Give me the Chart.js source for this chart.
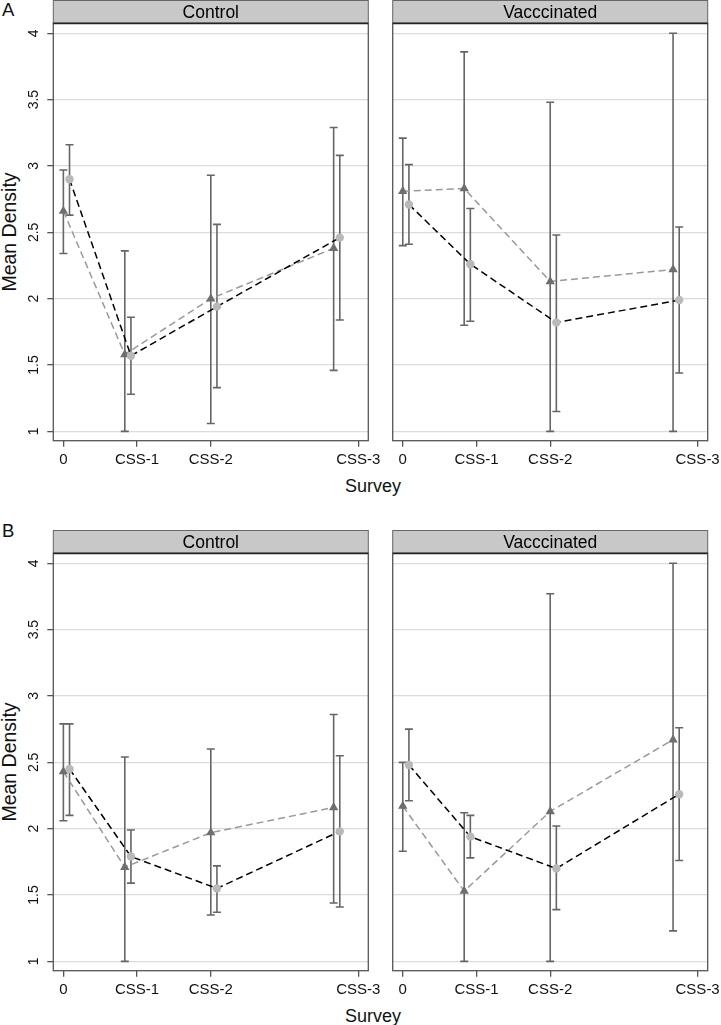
<!DOCTYPE html>
<html>
<head>
<meta charset="utf-8">
<script src="https://cdn.jsdelivr.net/npm/chart.js@4"></script>
<style>
html, body { margin: 0; padding: 0; background: #fff; overflow: hidden; width: 721px; height: 1025px; }
body { position: relative; font-family: "Liberation Sans", Arial, sans-serif; color: #111; }
canvas { position: absolute; }
.tag { position: absolute; font-size: 18.5px; line-height: 1; }
.ytitle { position: absolute; width: 200px; height: 20px; font-size: 19.5px; line-height: 20px; text-align: center; transform: rotate(-90deg); }
.xtitle { position: absolute; width: 200px; font-size: 18px; line-height: 1; text-align: center; }
</style>
</head>
<body>
<div class="tag" style="left:2px; top:1px;">A</div>
<div class="tag" style="left:2px; top:521.5px;">B</div>
<div class="ytitle" style="left:-91px; top:222px;">Mean Density</div>
<div class="ytitle" style="left:-91px; top:752px;">Mean Density</div>
<div class="xtitle" style="left:273px; top:476.5px;">Survey</div>
<div class="xtitle" style="left:273px; top:1006.5px;">Survey</div>

<canvas id="a-control" width="395" height="480" style="left:0px; top:0px;"></canvas>
<canvas id="a-vacc" width="360" height="480" style="left:370px; top:0px;"></canvas>
<canvas id="b-control" width="395" height="480" style="left:0px; top:530px;"></canvas>
<canvas id="b-vacc" width="360" height="480" style="left:370px; top:530px;"></canvas>

<script>
// Survey axis (months) and labels
const surveyTicks = [0, 3, 6, 12];
const surveyLabels = ['0', 'CSS-1', 'CSS-2', 'CSS-3'];
const yTicks = [1, 1.5, 2, 2.5, 3, 3.5, 4];

// Survey times of the two groups (slightly offset)
const timeTri = [0, 2.5, 6, 11];
const timeDot = [0.25, 2.75, 6.25, 11.25];

// Panel A - Control
const aCtrlTri = [2.66, 1.58, 2.00, 2.38];
const aCtrlTriLow = [2.34, 1.00, 1.06, 1.46];
const aCtrlTriHigh = [2.97, 2.36, 2.93, 3.29];
const aCtrlDot = [2.90, 1.57, 1.94, 2.46];
const aCtrlDotLow = [2.63, 1.28, 1.33, 1.84];
const aCtrlDotHigh = [3.16, 1.86, 2.56, 3.08];

// Panel A - Vacccinated
const aVacTri = [2.81, 2.83, 2.13, 2.22];
const aVacTriLow = [2.40, 1.80, 1.00, 1.00];
const aVacTriHigh = [3.21, 3.86, 3.48, 4.00];
const aVacDot = [2.71, 2.26, 1.82, 1.99];
const aVacDotLow = [2.41, 1.83, 1.15, 1.44];
const aVacDotHigh = [3.01, 2.68, 2.48, 2.54];

// Panel B - Control
const bCtrlTri = [2.43, 1.71, 1.97, 2.16];
const bCtrlTriLow = [2.06, 1.00, 1.35, 1.44];
const bCtrlTriHigh = [2.79, 2.54, 2.60, 2.86];
const bCtrlDot = [2.45, 1.79, 1.55, 1.98];
const bCtrlDotLow = [2.10, 1.59, 1.37, 1.41];
const bCtrlDotHigh = [2.79, 1.99, 1.72, 2.55];

// Panel B - Vacccinated
const bVacTri = [2.17, 1.53, 2.13, 2.67];
const bVacTriLow = [1.83, 1.00, 1.00, 1.23];
const bVacTriHigh = [2.50, 2.12, 3.77, 4.00];
const bVacDot = [2.48, 1.94, 1.70, 2.26];
const bVacDotLow = [2.21, 1.78, 1.39, 1.76];
const bVacDotHigh = [2.75, 2.10, 2.02, 2.76];

Chart.defaults.font.family = '"Liberation Sans", Arial, sans-serif';
Chart.defaults.color = '#111';

// Error bars, drawn under the lines and markers
const errorBarPlugin = {
    id: 'errorBars',
    beforeDatasetsDraw(chart) {
        const { ctx, scales: { x, y } } = chart;
        ctx.save();
        ctx.strokeStyle = '#666';
        ctx.lineWidth = 1.6;
        chart.data.datasets.forEach(ds => {
            ds.data.forEach((p, i) => {
                const px = x.getPixelForValue(p.x);
                const top = y.getPixelForValue(ds.high[i]);
                const bot = y.getPixelForValue(ds.low[i]);
                ctx.beginPath();
                ctx.moveTo(px, top); ctx.lineTo(px, bot);
                ctx.moveTo(px - 4, top); ctx.lineTo(px + 4, top);
                ctx.moveTo(px - 4, bot); ctx.lineTo(px + 4, bot);
                ctx.stroke();
            });
        });
        ctx.restore();
    }
};

// Plot frame and grey header strip
const stripPlugin = {
    id: 'strip',
    afterDraw(chart, args, opts) {
        const { ctx, chartArea: a } = chart;
        ctx.save();
        ctx.strokeStyle = '#555';
        ctx.lineWidth = 1.3;
        ctx.strokeRect(a.left, a.top, a.right - a.left, a.bottom - a.top);

        ctx.fillStyle = '#c8c8c8';
        ctx.fillRect(a.left, 0.5, a.right - a.left, a.top - 0.5);
        ctx.strokeStyle = '#666';
        ctx.lineWidth = 1;
        ctx.strokeRect(a.left, 0.5, a.right - a.left, a.top - 0.5);
        ctx.strokeStyle = '#222';
        ctx.lineWidth = 1.8;
        ctx.beginPath();
        ctx.moveTo(a.left, a.top);
        ctx.lineTo(a.right, a.top);
        ctx.stroke();

        ctx.fillStyle = '#000';
        ctx.font = '17.5px "Liberation Sans", Arial, sans-serif';
        ctx.textAlign = 'center';
        ctx.textBaseline = 'alphabetic';
        ctx.fillText(opts.label, (a.left + a.right) / 2, 17.5);
        ctx.restore();
    }
};

function generatePanel(canvasId, label, tri, triLow, triHigh, dot, dotLow, dotHigh, leftPanel) {
    const data = {
        datasets: [{
            label: 'dot',
            data: timeDot.map((t, i) => ({ x: t, y: dot[i] })),
            low: dotLow,
            high: dotHigh,
            borderColor: '#000',
            borderWidth: 1.5,
            borderDash: [7, 4],
            pointStyle: 'circle',
            pointRadius: 4.2,
            pointBackgroundColor: '#b9b9b9',
            pointBorderWidth: 0
        }, {
            label: 'tri',
            data: timeTri.map((t, i) => ({ x: t, y: tri[i] })),
            low: triLow,
            high: triHigh,
            borderColor: '#999',
            borderWidth: 1.5,
            borderDash: [7, 4],
            pointStyle: 'triangle',
            pointRadius: 5.4,
            pointBackgroundColor: '#6e6e6e',
            pointBorderWidth: 0
        }]
    };

    const config = {
        type: 'line',
        data: data,
        options: {
            responsive: false,
            animation: false,
            layout: {
                padding: { top: 23.3, left: 0, right: leftPanel ? 26.7 : 22.3, bottom: 9.3 }
            },
            plugins: {
                legend: { display: false },
                tooltip: { enabled: false },
                strip: { label: label }
            },
            scales: {
                x: {
                    type: 'linear',
                    min: -0.41,
                    max: 12.41,
                    afterBuildTicks: s => { s.ticks = surveyTicks.map(v => ({ value: v })); },
                    afterFit: s => { s.height = 30; },
                    grid: { drawOnChartArea: false, drawTicks: true, tickLength: 6, tickColor: '#555', lineWidth: 1.3 },
                    border: { display: false },
                    ticks: {
                        autoSkip: false, maxRotation: 0, minRotation: 0, padding: 4,
                        color: '#111', font: { size: 15 },
                        callback: (v, i) => surveyLabels[i]
                    }
                },
                y: {
                    type: 'linear',
                    min: 0.93,
                    max: 4.075,
                    afterBuildTicks: s => { s.ticks = yTicks.map(v => ({ value: v })); },
                    afterFit: s => { s.width = leftPanel ? 53.3 : 22.7; },
                    grid: { color: '#dcdcdc', lineWidth: 1.3, drawTicks: leftPanel, tickLength: 6, tickColor: '#555' },
                    border: { display: false },
                    ticks: {
                        display: leftPanel, minRotation: 90, maxRotation: 90, crossAlign: 'center',
                        padding: 3, color: '#111', font: { size: 14 },
                        callback: v => String(v)
                    }
                }
            }
        },
        plugins: [errorBarPlugin, stripPlugin]
    };

    new Chart(document.getElementById(canvasId), config);
}

generatePanel('a-control', 'Control', aCtrlTri, aCtrlTriLow, aCtrlTriHigh, aCtrlDot, aCtrlDotLow, aCtrlDotHigh, true);
generatePanel('a-vacc', 'Vacccinated', aVacTri, aVacTriLow, aVacTriHigh, aVacDot, aVacDotLow, aVacDotHigh, false);
generatePanel('b-control', 'Control', bCtrlTri, bCtrlTriLow, bCtrlTriHigh, bCtrlDot, bCtrlDotLow, bCtrlDotHigh, true);
generatePanel('b-vacc', 'Vacccinated', bVacTri, bVacTriLow, bVacTriHigh, bVacDot, bVacDotLow, bVacDotHigh, false);
</script>
</body>
</html>
